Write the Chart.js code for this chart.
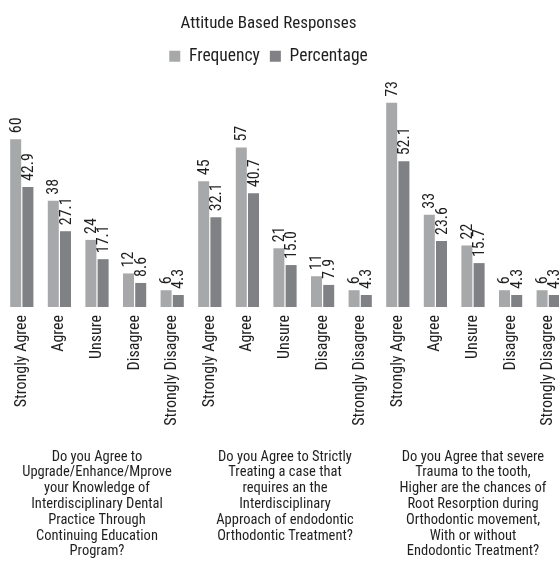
<!DOCTYPE html>
<html>
<head>
<meta charset="utf-8">
<script src="https://cdn.jsdelivr.net/npm/chart.js@4/dist/chart.umd.min.js"></script>
<style>
  html, body { margin: 0; padding: 0; background: #fff; overflow: hidden; }
  #wrap { width: 570px; height: 563px; }
</style>
</head>
<body>
<div id="wrap"><canvas id="chart" width="570" height="563"></canvas></div>
<script>
// ── Data ───────────────────────────────────────────────
const answers = ["Strongly Agree", "Agree", "Unsure", "Disagree", "Strongly Disagree"];
const categories = [...answers, ...answers, ...answers];

const questions = [
    ["Do you Agree to", "Upgrade/Enhance/Mprove", "your Knowledge of", "Interdisciplinary Dental",
     "Practice Through", "Continuing Education", "Program?"],
    ["Do you Agree to Strictly", "Treating a case that", "requires an the", "Interdisciplinary",
     "Approach of endodontic", "Orthodontic Treatment?"],
    ["Do you Agree that severe", "Trauma to the tooth,", "Higher are the chances of",
     "Root Resorption during", "Orthodontic movement,", "With or without", "Endodontic Treatment?"]
];

const frequency  = [60, 38, 24, 12, 6, 45, 57, 21, 11, 6, 73, 33, 22, 6, 6];
const percentage = [42.9, 27.1, 17.1, 8.6, 4.3, 32.1, 40.7, 15.0, 7.9, 4.3, 52.1, 23.6, 15.7, 4.3, 4.3];

// ── Fonts ──────────────────────────────────────────────
// pick the narrowest face that is installed, then size it so
// the texts come out as long as in the picture
const probe = document.createElement("canvas").getContext("2d");
function hasFont(name) {
    probe.font = "40px monospace";
    const a = probe.measureText("Strongly Agree 0123").width;
    probe.font = "40px '" + name + "', monospace";
    return probe.measureText("Strongly Agree 0123").width !== a;
}
const face = ["Liberation Sans Narrow", "Arial Narrow", "Roboto Condensed", "DejaVu Sans Condensed"]
    .find(hasFont) || "sans-serif";
const FONT = "'" + face + "', sans-serif";

function sizeFor(text, px) {
    probe.font = "100px " + FONT;
    return Math.round(100 * px / probe.measureText(text).width * 2) / 2;
}
const catSize    = sizeFor("Strongly Agree", 92);
const qSize      = sizeFor("Upgrade/Enhance/Mprove", 152);
const titleSize  = sizeFor("Attitude Based Responses", 178);
const legendSize = sizeFor("Frequency", 70);

const TEXT = "#1f1f1f";
Chart.defaults.font.family = FONT;
Chart.defaults.color = TEXT;

// numbers written vertically above each bar
const barValues = {
    id: "barValues",
    afterDatasetsDraw(chart) {
        const ctx = chart.ctx;
        ctx.save();
        ctx.font = catSize + "px " + FONT;
        ctx.fillStyle = TEXT;
        ctx.textAlign = "left";
        ctx.textBaseline = "middle";
        chart.data.datasets.forEach((ds, i) => {
            chart.getDatasetMeta(i).data.forEach((bar, j) => {
                const v = ds.data[j];
                const txt = i === 0 ? String(v) : v.toFixed(1);
                ctx.save();
                ctx.translate(bar.x + 1, bar.y - 6);
                ctx.rotate(-Math.PI / 2);
                ctx.fillText(txt, 0, 0);
                ctx.restore();
            });
        });
        ctx.restore();
    }
};

// title + legend sit a bit left of the plot's centre
const headerShift = {
    id: "headerShift",
    afterLayout(chart) {
        [chart.titleBlock, chart.legend].forEach(b => {
            b.left = 0;
            b.right = 537;
            b.width = 537;
        });
    }
};

// fixed band heights under the bars
const fitBand = h => scale => {
    scale.paddingLeft = 0;
    scale.paddingRight = 0;
    scale.height = h;
};

new Chart(document.getElementById("chart"), {
    type: "bar",
    data: {
        labels: categories,
        datasets: [
            {
                label: "Frequency",
                data: frequency,
                backgroundColor: "#a7a8aa"
            },
            {
                label: "Percentage",
                data: percentage,
                backgroundColor: "#808184"
            }
        ]
    },
    options: {
        responsive: false,
        animation: false,
        layout: { padding: { left: 3, right: 3, top: 0, bottom: 3 } },
        datasets: { bar: { categoryPercentage: 0.65, barPercentage: 0.9 } },
        plugins: {
            title: {
                display: true,
                text: "Attitude Based Responses",
                color: TEXT,
                font: { size: titleSize, weight: "normal" },
                padding: { top: 14, bottom: 3 }
            },
            legend: {
                labels: {
                    color: TEXT,
                    font: { size: legendSize },
                    boxWidth: 11,
                    boxHeight: 11,
                    padding: 10
                }
            },
            tooltip: { enabled: false }
        },
        scales: {
            x: {
                weight: 0,
                grid: { display: false, drawTicks: false },
                border: { display: false },
                afterFit: fitBand(118),
                ticks: {
                    autoSkip: false,
                    minRotation: 90,
                    maxRotation: 90,
                    padding: 8,
                    color: TEXT,
                    font: { size: catSize }
                }
            },
            xGroup: {
                type: "category",
                labels: questions,
                position: "bottom",
                offset: true,
                weight: 1,
                grid: { display: false, drawTicks: false },
                border: { display: false },
                afterFit: fitBand(135),
                ticks: {
                    autoSkip: false,
                    maxRotation: 0,
                    padding: 24,
                    color: TEXT,
                    font: { size: qSize, lineHeight: "15.8px" }
                }
            },
            y: {
                display: false,
                min: 0,
                max: 83
            }
        }
    },
    plugins: [barValues, headerShift]
});
</script>
</body>
</html>
